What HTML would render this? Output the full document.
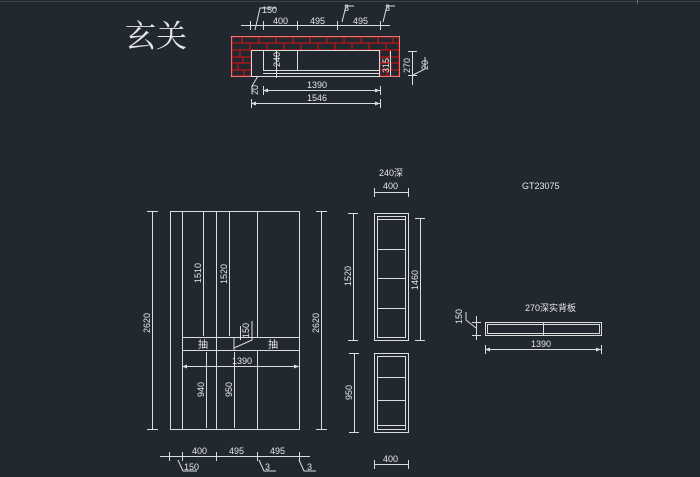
<!DOCTYPE html>
<html><head><meta charset="utf-8"><style>
html,body{margin:0;padding:0;background:#212830;}
svg{display:block}
text{font-family:"Liberation Sans","Noto Sans CJK SC",sans-serif;fill:#e6e6e6;font-size:9px}
</style></head><body>
<svg width="700" height="477" viewBox="0 0 700 477" xmlns="http://www.w3.org/2000/svg">
<rect width="700" height="477" fill="#212830"/>
<line x1="0" y1="1.5" x2="700" y2="1.5" stroke="#3a424c"/>
<line x1="637.5" y1="0" x2="637.5" y2="4" stroke="#6a7078"/>
<g stroke="#dcdcdc" stroke-width="1" fill="none">
<!-- Top plan -->
<rect x="231.5" y="36.5" width="168" height="40"/>
<g stroke="#e01010">
<rect x="232" y="37" width="167" height="13"/>
<rect x="232" y="50" width="19" height="26"/>
<rect x="380" y="50" width="19" height="26"/>
<line x1="232" y1="43" x2="399" y2="43"/>
<line x1="232" y1="57" x2="251" y2="57"/><line x1="232" y1="63" x2="251" y2="63"/><line x1="232" y1="70" x2="251" y2="70"/>
<line x1="380" y1="57" x2="399" y2="57"/><line x1="380" y1="63" x2="399" y2="63"/><line x1="380" y1="70" x2="399" y2="70"/>
<path d="M242 37v6M259 37v6M276 37v6M293 37v6M310 37v6M327 37v6M344 37v6M361 37v6M378 37v6M393 37v6M250 43v7M267 43v7M284 43v7M301 43v7M318 43v7M335 43v7M352 43v7M369 43v7M386 43v7M240 50v7M243 57v6M238 63v7M244 70v6M390 50v7M388 57v6M391 63v7M387 70v6"/>
</g>
<rect x="251.5" y="50.5" width="128" height="26" stroke="#dcdcdc"/>
<rect x="263.5" y="50.5" width="116" height="20"/>
<line x1="263" y1="73.5" x2="380" y2="73.5"/>
<line x1="297.5" y1="50" x2="297.5" y2="70"/>
<line x1="241" y1="25.5" x2="390" y2="25.5"/>
<path d="M250.5 21v9M263.5 21v9M297.5 21v9M337.5 21v9M380.5 21v9M255 30l5-22h16M342 22l4-16h8M383 22l4-16h8"/>
<line x1="276.5" y1="50" x2="276.5" y2="78"/>
<line x1="263" y1="90.5" x2="380" y2="90.5"/><path d="M263.5 86v9M380.5 86v9"/>
<line x1="251" y1="103.5" x2="380" y2="103.5"/><path d="M251.5 99v9M380.5 99v9"/>
<path d="M258 76l-6 10v8"/>
<line x1="412.5" y1="51" x2="412.5" y2="85"/><path d="M408 51.5h9M408 75.5h9M413 75l12-6v-12"/>
<line x1="390.5" y1="51" x2="390.5" y2="76"/>
<!-- Front elevation -->
<rect x="170.5" y="211.5" width="129" height="218"/>
<line x1="182.5" y1="211" x2="182.5" y2="429"/>
<line x1="216.5" y1="211" x2="216.5" y2="429"/>
<line x1="257.5" y1="211" x2="257.5" y2="337"/>
<line x1="257.5" y1="350" x2="257.5" y2="429"/>
<line x1="182" y1="337.5" x2="299" y2="337.5"/>
<line x1="182" y1="350.5" x2="299" y2="350.5"/>
<line x1="234" y1="350" x2="234" y2="337"/>
<line x1="203.5" y1="212" x2="203.5" y2="336"/><line x1="229.5" y1="212" x2="229.5" y2="336"/>
<line x1="206.5" y1="352" x2="206.5" y2="428"/><line x1="234.5" y1="352" x2="234.5" y2="428"/>
<line x1="182" y1="366.5" x2="299" y2="366.5"/>
<path d="M234 348l18-8v-19"/>
<line x1="240.5" y1="326" x2="240.5" y2="340"/>
<line x1="152.5" y1="211" x2="152.5" y2="429"/><path d="M147 211.5h11M147 429.5h11"/>
<line x1="321.5" y1="211" x2="321.5" y2="429"/><path d="M316 211.5h11M316 429.5h11"/>
<line x1="160" y1="456.5" x2="310" y2="456.5"/>
<path d="M169.5 452v9M182.5 452v9M216.5 452v9M257.5 452v9M299.5 452v9M178 460l5 11h14M259 460l5 11h12M299 460l5 11h12"/>
<!-- middle shelves -->
<rect x="374.5" y="213.5" width="34" height="127"/>
<rect x="377.5" y="216.5" width="28" height="121"/>
<path d="M377 219.5h28M377 249.5h28M377 278.5h28M377 308.5h28"/>
<rect x="374.5" y="353.5" width="34" height="79"/>
<rect x="377.5" y="356.5" width="28" height="73"/>
<path d="M377 377.5h28M377 400.5h28M377 425.5h28"/>
<line x1="374" y1="192.5" x2="408" y2="192.5"/><path d="M374.5 188v9M408.5 188v9"/>
<line x1="374" y1="464.5" x2="408" y2="464.5"/><path d="M374.5 460v9M408.5 460v9"/>
<line x1="353.5" y1="213" x2="353.5" y2="340"/><path d="M348 213.5h10M348 340.5h10"/>
<line x1="420.5" y1="218" x2="420.5" y2="340"/><path d="M415 218.5h10M415 340.5h10"/>
<line x1="354.5" y1="353" x2="354.5" y2="432"/><path d="M349 353.5h10M349 432.5h10"/>
<!-- right back panel -->
<rect x="485.5" y="322.5" width="116" height="13"/>
<rect x="487.5" y="324.5" width="112" height="9"/>
<line x1="543.5" y1="323" x2="543.5" y2="335"/>
<line x1="485" y1="349.5" x2="601" y2="349.5"/><path d="M485.5 345v9M601.5 345v9"/>
<line x1="476.5" y1="316" x2="476.5" y2="340"/><path d="M472 322.5h9M472 335.5h9M476 328l-10-8v-8"/>
</g>
<g fill="#dcdcdc">
<path d="M263 90.5l5-2v4zM380 90.5l-5-2v4zM251 103.5l5-2v4zM380 103.5l-5-2v4zM182 366.5l5-2v4zM299 366.5l-5-2v4zM485 349.5l5-2v4zM601 349.5l-5-2v4z"/>
</g>
<text x="125" y="47" style="font-size:31px;font-family:'Noto Serif CJK SC','Noto Sans CJK SC',serif">玄关</text>
<text x="262" y="13">150</text><text x="273" y="24">400</text><text x="310" y="24">495</text>
<text x="344" y="11">3</text><text x="353" y="24">495</text><text x="385" y="11">3</text>
<text x="307" y="88">1390</text><text x="307" y="101">1546</text>
<text transform="translate(280,67) rotate(-90)">240</text>
<text transform="translate(389,73) rotate(-90)">315</text>
<text transform="translate(410,73) rotate(-90)">270</text>
<text transform="translate(428,70) rotate(-90)">20</text>
<text transform="translate(258,95) rotate(-90)">20</text>
<text transform="translate(201,283) rotate(-90)">1510</text>
<text transform="translate(227,284) rotate(-90)">1520</text>
<text transform="translate(150,333) rotate(-90)">2620</text>
<text transform="translate(319,333) rotate(-90)">2620</text>
<text transform="translate(249,338) rotate(-90)">150</text>
<text x="198" y="348" style="font-size:10px">抽</text><text x="268" y="348" style="font-size:10px">抽</text>
<text x="232" y="364">1390</text>
<text transform="translate(204,397) rotate(-90)">940</text>
<text transform="translate(232,397) rotate(-90)">950</text>
<text x="192" y="454">400</text><text x="229" y="454">495</text><text x="270" y="454">495</text>
<text x="184" y="470">150</text><text x="265" y="470">3</text><text x="307" y="470">3</text>
<text x="379" y="176">240深</text><text x="383" y="189">400</text><text x="383" y="462">400</text>
<text transform="translate(351,286) rotate(-90)">1520</text>
<text transform="translate(418,290) rotate(-90)">1460</text>
<text transform="translate(352,400) rotate(-90)">950</text>
<text x="522" y="189">GT23075</text>
<text x="525" y="311">270深实背板</text>
<text x="531" y="347">1390</text>
<text transform="translate(462,324) rotate(-90)">150</text>
</svg>
</body></html>
